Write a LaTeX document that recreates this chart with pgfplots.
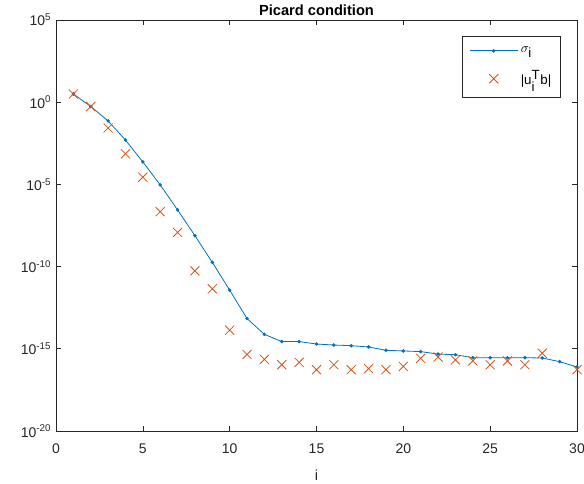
\documentclass[border=0pt]{standalone}
\usepackage{fontspec}
\setmainfont{Liberation Sans}
\usepackage{pgfplots}
\pgfplotsset{compat=1.18}
\definecolor{mblue}{rgb}{0,0.447,0.741}
\definecolor{morange}{rgb}{0.85,0.325,0.098}
\definecolor{maxis}{rgb}{0.15,0.15,0.15}
\pgfplotsset{
  lineleg/.style={legend image code/.code={\draw[mark repeat=2,mark phase=2,##1] plot coordinates {(0pt,0pt) (18pt,0pt) (36pt,0pt)};}},
  markleg/.style={legend image code/.code={\path (0pt,0pt) (36pt,0pt); \draw[##1] plot coordinates {(18pt,0pt)};}},
}
\begin{document}
\begin{tikzpicture}
\begin{axis}[
  name=ax,
  scale only axis,
  width=390.75pt, height=308.25pt,
  ymode=log,
  xmin=0, xmax=30, ymin=1e-20, ymax=1e5,
  xtick={0,5,...,30},
  ytick={1e-20,1e-15,1e-10,1e-5,1e0,1e5},
  yticklabels={10\textsuperscript{-20},10\textsuperscript{-15},10\textsuperscript{-10},10\textsuperscript{-5},10\textsuperscript{0},10\textsuperscript{5}},
  minor tick num=0,
  yminorticks=false,
  tick align=inside,
  major tick length=3.75pt,
  axis line style={maxis, line width=0.5pt},
  tick style={maxis, line width=0.5pt},
  /pgf/number format/assume math mode=true,
  tick label style={font=\fontsize{10.5}{12}\selectfont, text=maxis},
  xticklabel style={yshift=-6pt},
  xlabel={i},
  xlabel style={font=\fontsize{11}{13}\selectfont, text=maxis, yshift=-5pt},
  title={\textbf{Picard condition}},
  title style={font=\fontsize{11}{13}\selectfont, yshift=-6.5pt},
  legend style={at={(1,1)}, xshift=-12pt, yshift=-12pt, anchor=north east,
    font=\fontsize{10}{12}\selectfont, draw=maxis, line width=0.5pt,
    row sep=8pt, inner xsep=5pt, inner ysep=6pt},
  legend cell align=left,
]
\addplot[mblue, line width=0.6pt, mark=*, mark size=1pt, mark options={solid, fill=mblue, draw=mblue}, lineleg] coordinates {
(1,3.16) (2,0.55) (3,7.24e-2) (4,5.01e-3) (5,2.34e-4) (6,9.33e-6) (7,2.82e-7) (8,7.59e-9)
(9,1.82e-10) (10,3.72e-12) (11,6.92e-14) (12,7.59e-15) (13,2.75e-15) (14,2.75e-15)
(15,1.95e-15) (16,1.70e-15) (17,1.55e-15) (18,1.29e-15) (19,8.13e-16) (20,7.41e-16)
(21,6.76e-16) (22,4.79e-16) (23,4.37e-16) (24,2.88e-16) (25,2.88e-16) (26,2.88e-16)
(27,2.88e-16) (28,2.75e-16) (29,1.66e-16) (30,7.76e-17)
};
\addlegendentry{$\sigma_{\textrm{i}}$}
\addplot[only marks, morange, mark=x, mark size=4.8pt, mark options={line width=0.6pt}, markleg] coordinates {
(1,3.16) (2,0.55) (3,2.69e-2) (4,7.24e-4) (5,2.75e-5) (6,2.19e-7) (7,1.20e-8) (8,5.50e-11)
(9,4.47e-12) (10,1.35e-14) (11,4.57e-16) (12,2.29e-16) (13,1.07e-16) (14,1.51e-16)
(15,5.37e-17) (16,1.07e-16) (17,5.37e-17) (18,6.17e-17) (19,5.37e-17) (20,8.51e-17)
(21,2.63e-16) (22,3.16e-16) (23,2.09e-16) (24,1.82e-16) (25,1.07e-16) (26,1.82e-16)
(27,1.07e-16) (28,5.37e-16) (30,5.37e-17)
};
\addlegendentry{|u$_{\textrm{i}}^{\textrm{T}}$b|}
\end{axis}
\pgfresetboundingbox
\path[use as bounding box] ([xshift=-42pt,yshift=-39pt]ax.south west) rectangle ([xshift=5.25pt,yshift=15pt]ax.north east);
\end{tikzpicture}
\end{document}
